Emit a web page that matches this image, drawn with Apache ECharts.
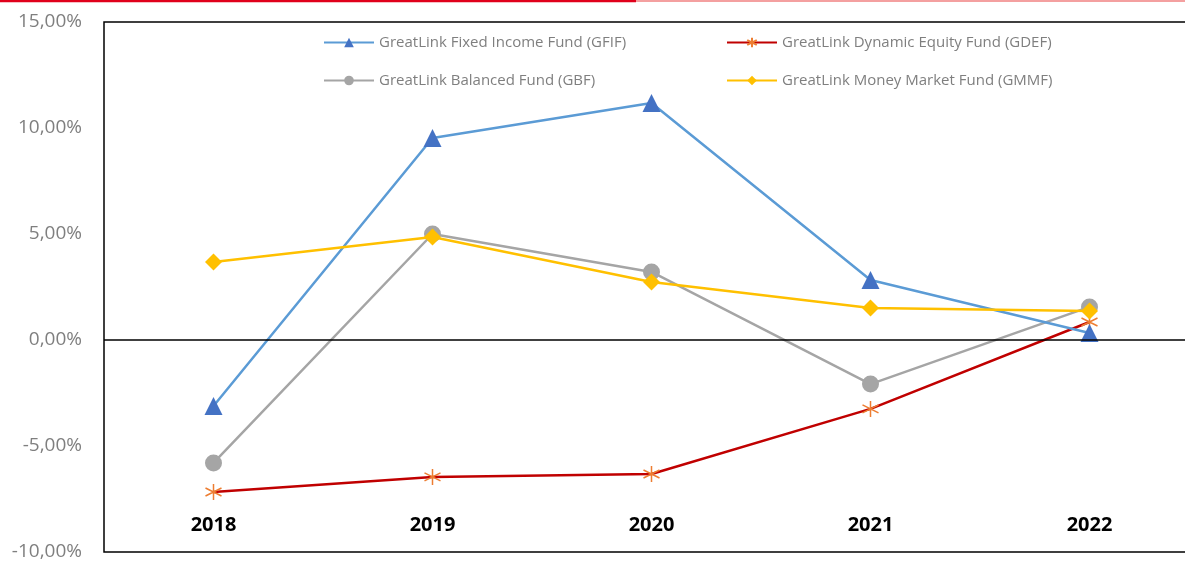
<!DOCTYPE html>
<html>
<head>
<meta charset="utf-8">
<script src="https://cdn.jsdelivr.net/npm/echarts@6/dist/echarts.min.js"></script>
<style>html,body{margin:0;padding:0;background:#fff}#c{width:1185px;height:563px}</style>
</head>
<body>
<div id="c"></div>
<script>
var categories = ['2018', '2019', '2020', '2021', '2022'];
var gfif = [-3.11, 9.53, 11.18, 2.83, 0.33];
var gdef = [-7.17, -6.46, -6.32, -3.25, 0.85];
var gbf = [-5.80, 5.00, 3.21, -2.08, 1.56];
var gmmf = [3.68, 4.86, 2.74, 1.51, 1.37];
var names = ['GreatLink Fixed Income Fund (GFIF)', 'GreatLink Dynamic Equity Fund (GDEF)', 'GreatLink Balanced Fund (GBF)', 'GreatLink Money Market Fund (GMMF)'];

var chart = echarts.init(document.getElementById('c'));
var starPath = 'path://M0,-10L0,10M-8.66,-5L8.66,5M-8.66,5L8.66,-5';
var legendText = {color: '#7f7f7f', fontSize: 15, fontFamily: 'Open Sans'};
function lg(name, left, top) {
  return {data: [name], left: left, top: top, itemWidth: 50, itemHeight: 12, textStyle: legendText, selectedMode: false};
}
chart.setOption({
  animation: false,
  backgroundColor: '#fff',
  graphic: [
    {type: 'line', shape: {x1: 0, y1: 1, x2: 636, y2: 1}, style: {stroke: '#e0001b', lineWidth: 2.5}},
    {type: 'line', shape: {x1: 636, y1: 1, x2: 1185, y2: 1}, style: {stroke: '#f08080', lineWidth: 1.5}}
  ],
  legend: [lg(names[0], 318, 30), lg(names[1], 721, 30), lg(names[2], 318, 68), lg(names[3], 721, 68)],
  grid: {left: 104, top: 22, width: 1095, height: 530, outerBoundsMode: 'none', containLabel: false,
    show: true, borderColor: '#000', borderWidth: 1.5},
  xAxis: {
    type: 'category', data: categories,
    axisLine: {show: false, onZero: false}, axisTick: {show: false},
    axisLabel: {inside: true, margin: 17, fontSize: 20, fontWeight: 'bold', color: '#000', fontFamily: 'Open Sans'},
    splitLine: {show: false}
  },
  yAxis: {
    type: 'value', min: -10, max: 15, interval: 5,
    axisLine: {show: false}, axisTick: {show: false}, splitLine: {show: false},
    axisLabel: {margin: 22, fontSize: 19, color: '#7f7f7f', fontFamily: 'Open Sans',
      formatter: function (v) { return v.toFixed(2).replace('.', ',') + '%'; }}
  },
  series: [
    {name: names[0], type: 'line', data: gfif, symbol: 'triangle', symbolSize: 18,
      lineStyle: {color: '#5B9BD5', width: 2.5}, itemStyle: {color: '#4472C4'}, z: 4,
      markLine: {silent: true, symbol: ['none', 'none'], label: {show: false},
        lineStyle: {color: '#000', width: 1.5, type: 'solid'}, data: [{yAxis: 0}]}},
    {name: names[1], type: 'line', data: gdef, symbol: starPath, symbolSize: 16,
      lineStyle: {color: '#C00000', width: 2.5}, itemStyle: {color: '#ED7D31', borderColor: '#ED7D31', borderWidth: 1.5}, z: 3},
    {name: names[2], type: 'line', data: gbf, symbol: 'circle', symbolSize: 17,
      lineStyle: {color: '#A5A5A5', width: 2.5}, itemStyle: {color: '#A5A5A5'}, z: 2},
    {name: names[3], type: 'line', data: gmmf, symbol: 'diamond', symbolSize: 17,
      lineStyle: {color: '#FFC000', width: 2.5}, itemStyle: {color: '#FFC000'}, z: 5}
  ]
});
</script>
</body>
</html>
